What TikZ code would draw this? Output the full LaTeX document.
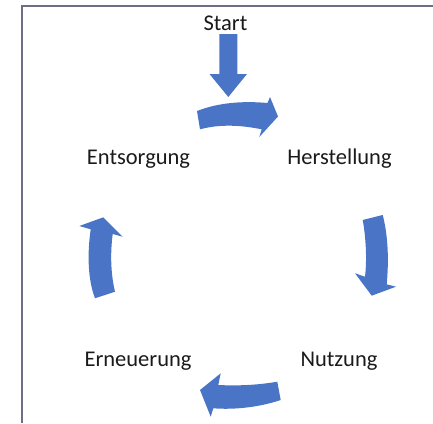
\documentclass[tikz,border=0pt]{standalone}
\usepackage{fontspec}
\setmainfont{Carlito}
\definecolor{arrowblue}{HTML}{4A75C6}
\definecolor{framegray}{HTML}{6E6F86}
\definecolor{textblack}{HTML}{1A1A1A}
\begin{document}
\begin{tikzpicture}[x=1pt,y=-1pt,
  lbl/.style={anchor=base,inner sep=0pt,font=\fontsize{22.5}{27}\selectfont,text=textblack},
  blockarrow/.style={fill=arrowblue,draw=none}]
\useasboundingbox (0,0) rectangle (433,423);
% frame
\draw[framegray,line width=1.4pt] (22,423) -- (22,6) -- (433,6);
% labels
\node[lbl] (start) at (225.5,30) {Start};
\node[lbl] (entsorgung) at (138.5,164.5) {Entsorgung};
\node[lbl] (herstellung) at (339.5,164.5) {Herstellung};
\node[lbl] (erneuerung) at (138,366) {Erneuerung};
\node[lbl] (nutzung) at (339,366) {Nutzung};
% start arrow (straight down)
\fill[blockarrow] (219.3,34) -- (237.3,34) -- (237.3,74) -- (247,74) -- (228.3,97) -- (209.5,74) -- (219.3,74) -- cycle;
% top arrow (to the right)
\fill[blockarrow] (197,111) .. controls (220,102) and (245,101) .. (267.5,103)
  -- (270,97) -- (278,116.5) -- (259.3,137) -- (261.7,129.3)
  .. controls (240,125) and (220,124) .. (200,129.3) -- cycle;
% right arrow (down)
\fill[blockarrow] (362.7,220) -- (382.7,215) .. controls (388,235) and (389,260) .. (386.7,284.3)
  -- (396,286.7) -- (371.7,295.7) -- (355,273.3) -- (365,276.7)
  .. controls (367,260) and (366,238) .. (362.7,220) -- cycle;
% bottom arrow (to the left)
\fill[blockarrow] (220.7,373.3) -- (200,390) -- (210.7,416.7) -- (213.3,408.3)
  .. controls (235,410) and (260,407) .. (280.7,400) -- (277.3,381.7)
  .. controls (258,385) and (238,386) .. (218.3,385) -- cycle;
% left arrow (up)
\fill[blockarrow] (79.3,226) -- (103.3,217.3) -- (122.7,236.7) -- (112.7,234)
  .. controls (110,255) and (111,275) .. (115,291.7) -- (95,298.3)
  .. controls (88,280) and (87,255) .. (90.7,229.3) -- cycle;
\end{tikzpicture}
\end{document}
